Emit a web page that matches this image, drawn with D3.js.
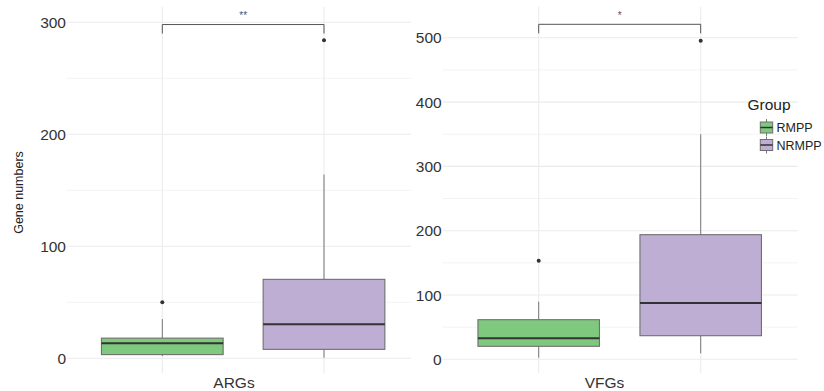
<!DOCTYPE html>
<html>
<head>
<meta charset="utf-8">
<script src="https://cdn.jsdelivr.net/npm/d3@7"></script>
<style>
  html, body { margin: 0; padding: 0; background: #fff; }
  svg { display: block; font-family: "Liberation Sans", Arial, Helvetica, sans-serif; }
</style>
</head>
<body>
<svg id="chart" width="824" height="391"></svg>
<script>
// Groups and their colours
const groups = ["RMPP", "NRMPP"];
const groupColors = ["#7fc97f", "#beaed4"];

// ARGs: box-plot summaries per group (RMPP, NRMPP)
const argsWhiskerLow  = [2, 0.5];
const argsQ1          = [3.3, 8];
const argsMedian      = [13.4, 30.4];
const argsQ3          = [18, 70.5];
const argsWhiskerHigh = [35, 164];
const argsOutliers    = [[50], [284]];
const argsTicks       = [0, 100, 200, 300];
const argsMinorTicks  = [50, 150, 250];
const argsBracket     = 298;
const argsSig         = "**";

// VFGs: box-plot summaries per group (RMPP, NRMPP)
const vfgsWhiskerLow  = [2.5, 9.3];
const vfgsQ1          = [20.2, 36.7];
const vfgsMedian      = [32.6, 87.6];
const vfgsQ3          = [61.6, 193.8];
const vfgsWhiskerHigh = [89.6, 350];
const vfgsOutliers    = [[153.3], [495.5]];
const vfgsTicks       = [0, 100, 200, 300, 400, 500];
const vfgsMinorTicks  = [50, 150, 250, 350, 450];
const vfgsBracket     = 521;
const vfgsSig         = "*";

const yTitle = "Gene numbers";
const legendTitle = "Group";

const svg = d3.select("#chart");

const panels = [
  {
    name: "ARGs",
    low: argsWhiskerLow, q1: argsQ1, med: argsMedian, q3: argsQ3, high: argsWhiskerHigh,
    outliers: argsOutliers, ticks: argsTicks, minor: argsMinorTicks,
    bracket: argsBracket, sig: argsSig,
    y: d3.scaleLinear().domain([0, 300]).range([358.3, 22.3]),
    x: d3.scalePoint().domain(groups).range([162.3, 324]),
    gridX: [67, 411], gridY: [7, 373], boxW: 121.7, labelX: 234
  },
  {
    name: "VFGs",
    low: vfgsWhiskerLow, q1: vfgsQ1, med: vfgsMedian, q3: vfgsQ3, high: vfgsWhiskerHigh,
    outliers: vfgsOutliers, ticks: vfgsTicks, minor: vfgsMinorTicks,
    bracket: vfgsBracket, sig: vfgsSig,
    y: d3.scaleLinear().domain([0, 500]).range([359.3, 37.8]),
    x: d3.scalePoint().domain(groups).range([538.7, 700.7]),
    gridX: [442.7, 797.7], gridY: [7, 373], boxW: 121.5, labelX: 604.5
  }
];

panels.forEach(p => {
  const g = svg.append("g");

  // minor horizontal grid
  g.selectAll(".minor").data(p.minor).join("line")
    .attr("x1", p.gridX[0]).attr("x2", p.gridX[1])
    .attr("y1", d => p.y(d)).attr("y2", d => p.y(d))
    .attr("stroke", "#f3f3f3").attr("stroke-width", 1);

  // major horizontal grid
  g.selectAll(".major").data(p.ticks).join("line")
    .attr("x1", p.gridX[0]).attr("x2", p.gridX[1])
    .attr("y1", d => p.y(d)).attr("y2", d => p.y(d))
    .attr("stroke", "#ebebeb").attr("stroke-width", 1.1);

  // vertical grid at group positions
  g.selectAll(".vgrid").data(groups).join("line")
    .attr("x1", d => p.x(d)).attr("x2", d => p.x(d))
    .attr("y1", p.gridY[0]).attr("y2", p.gridY[1])
    .attr("stroke", "#ebebeb").attr("stroke-width", 1.1);

  // y axis tick labels
  g.selectAll(".tick").data(p.ticks).join("text")
    .attr("x", p.gridX[0] - 1)
    .attr("y", d => p.y(d))
    .attr("dy", "0.36em")
    .attr("text-anchor", "end")
    .attr("font-size", 15.5)
    .attr("fill", "#333")
    .text(d => d);

  // x axis label
  g.append("text")
    .attr("x", p.labelX).attr("y", 382)
    .attr("dy", "0.36em")
    .attr("text-anchor", "middle")
    .attr("font-size", 15.5)
    .attr("fill", "#333")
    .text(p.name);

  // boxes
  groups.forEach((grp, i) => {
    const cx = p.x(grp);
    const bg = g.append("g");
    // whiskers
    bg.append("line")
      .attr("x1", cx).attr("x2", cx)
      .attr("y1", p.y(p.q3[i])).attr("y2", p.y(p.high[i]))
      .attr("stroke", "#777").attr("stroke-width", 1);
    bg.append("line")
      .attr("x1", cx).attr("x2", cx)
      .attr("y1", p.y(p.q1[i])).attr("y2", p.y(p.low[i]))
      .attr("stroke", "#777").attr("stroke-width", 1);
    // box
    bg.append("rect")
      .attr("x", cx - p.boxW / 2)
      .attr("y", p.y(p.q3[i]))
      .attr("width", p.boxW)
      .attr("height", p.y(p.q1[i]) - p.y(p.q3[i]))
      .attr("fill", groupColors[i])
      .attr("stroke", "#6f6f6f").attr("stroke-width", 1.1);
    // median
    bg.append("line")
      .attr("x1", cx - p.boxW / 2).attr("x2", cx + p.boxW / 2)
      .attr("y1", p.y(p.med[i])).attr("y2", p.y(p.med[i]))
      .attr("stroke", "#333").attr("stroke-width", 2);
    // outliers
    bg.selectAll("circle").data(p.outliers[i]).join("circle")
      .attr("cx", cx).attr("cy", d => p.y(d)).attr("r", 2)
      .attr("fill", "#333");
  });

  // significance bracket
  const by = p.y(p.bracket);
  const x1 = p.x(groups[0]), x2 = p.x(groups[1]);
  g.append("path")
    .attr("d", `M${x1},${by + 9}V${by}H${x2}V${by + 9}`)
    .attr("fill", "none").attr("stroke", "#555").attr("stroke-width", 1);
  g.append("text")
    .attr("x", (x1 + x2) / 2).attr("y", by - 5.5)
    .attr("text-anchor", "middle")
    .attr("font-size", 10)
    .attr("fill", "#555")
    .text(p.sig);
});

// y axis title
svg.append("text")
  .attr("transform", "translate(23,192.5) rotate(-90)")
  .attr("text-anchor", "middle")
  .attr("font-size", 12.5)
  .attr("fill", "#222")
  .text(yTitle);

// legend
const legend = svg.append("g");
legend.append("text")
  .attr("x", 747.5).attr("y", 104).attr("dy", "0.36em")
  .attr("font-size", 15.5).attr("fill", "#222")
  .text(legendTitle);

groups.forEach((grp, i) => {
  const ly = 127.5 + i * 17.5;
  const kg = legend.append("g");
  kg.append("line")
    .attr("x1", 766.5).attr("x2", 766.5)
    .attr("y1", ly - 8.5).attr("y2", ly + 8.5)
    .attr("stroke", "#777");
  kg.append("rect")
    .attr("x", 760.3).attr("y", ly - 5.5)
    .attr("width", 12.4).attr("height", 11)
    .attr("fill", groupColors[i]).attr("stroke", "#6f6f6f");
  kg.append("line")
    .attr("x1", 760.3).attr("x2", 772.7)
    .attr("y1", ly).attr("y2", ly)
    .attr("stroke", "#333").attr("stroke-width", 1.5);
  kg.append("text")
    .attr("x", 776.5).attr("y", ly).attr("dy", "0.36em")
    .attr("font-size", 12.5).attr("fill", "#222")
    .text(grp);
});
</script>
</body>
</html>
